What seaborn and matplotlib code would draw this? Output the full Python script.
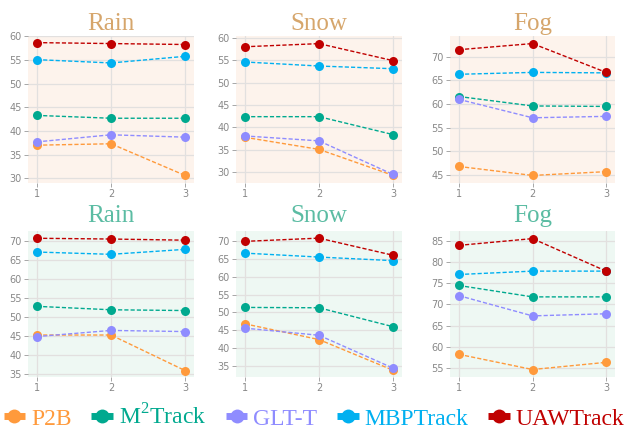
import numpy as np
import pandas as pd
import matplotlib
matplotlib.use("Agg")
import matplotlib.pyplot as plt
import seaborn as sns
from matplotlib.lines import Line2D

sns.set_theme(style="white")
plt.rcParams["mathtext.fontset"] = "custom"
plt.rcParams["mathtext.rm"] = "Liberation Serif"

methods = ["P2B", "M2Track", "GLT-T", "MBPTrack", "UAWTrack"]
legend_labels = ["P2B", r"M$^{\mathrm{2}}$Track", "GLT-T", "MBPTrack", "UAWTrack"]
colors = ["#ff9a3c", "#00a98f", "#8f8cff", "#00b0f0", "#c00000"]
levels = [1, 2, 3]
panel_titles = ["Rain", "Snow", "Fog", "Rain", "Snow", "Fog"]

# values per panel: rows = methods (P2B, M2Track, GLT-T, MBPTrack, UAWTrack)
top_rain = [[37.0, 37.3, 30.6], [43.3, 42.7, 42.7], [37.7, 39.2, 38.7], [55.1, 54.4, 55.8], [58.7, 58.5, 58.3]]
top_snow = [[37.8, 35.1, 29.3], [42.4, 42.4, 38.4], [38.1, 37.0, 29.5], [54.6, 53.7, 53.1], [58.0, 58.7, 54.9]]
top_fog = [[46.8, 44.9, 45.7], [61.6, 59.6, 59.5], [61.0, 57.1, 57.4], [66.3, 66.7, 66.6], [71.5, 72.8, 66.7]]
bot_rain = [[45.3, 45.3, 36.0], [52.8, 51.9, 51.7], [44.9, 46.5, 46.2], [67.0, 66.4, 67.7], [70.6, 70.4, 70.1]]
bot_snow = [[46.8, 42.4, 33.8], [51.4, 51.3, 46.0], [45.6, 43.6, 34.4], [66.6, 65.5, 64.5], [69.9, 70.8, 66.0]]
bot_fog = [[58.2, 54.6, 56.3], [74.5, 71.8, 71.8], [72.1, 67.3, 67.8], [77.1, 77.9, 77.9], [84.0, 85.6, 77.9]]

panels = [top_rain, top_snow, top_fog, bot_rain, bot_snow, bot_fog]
ylims = [(29.0, 60.1), (27.6, 60.4), (43.3, 74.4), (34.4, 72.5), (32.0, 72.8), (52.9, 87.4)]
yticks = [np.arange(30, 61, 5), np.arange(30, 61, 5), np.arange(45, 71, 5),
          np.arange(35, 71, 5), np.arange(35, 71, 5), np.arange(55, 86, 5)]

W, H = 628, 429
fig = plt.figure(figsize=(W / 100, H / 100), dpi=100)

cols_px = [(28, 194), (236, 402), (450, 615)]
rows_px = [(36, 183), (231, 376.7)]
bgs = ["#fdf3ec", "#eef8f3"]
title_colors = ["#d6a66c", "#5bbca3"]
title_pads = [4, 6.5]

palette = dict(zip(methods, colors))

for i, vals in enumerate(panels):
    r, c = divmod(i, 3)
    x0, x1 = cols_px[c]
    y0, y1 = rows_px[r]
    ax = fig.add_axes([x0 / W, (H - y1) / H, (x1 - x0) / W, (y1 - y0) / H])
    ax.set_facecolor(bgs[r])
    recs = []
    for m, row in zip(methods, vals):
        for lv, v in zip(levels, row):
            recs.append({"method": m, "level": lv, "value": v})
    df = pd.DataFrame(recs)
    sns.lineplot(data=df, x="level", y="value", hue="method", hue_order=methods,
                 palette=palette, marker="o", markersize=6.5, markeredgewidth=0,
                 linewidth=1.0, linestyle=(0, (3, 1.5)), legend=False, ax=ax, zorder=3)
    ax.set_xlim(0.88, 3.12)
    ax.set_ylim(*ylims[i])
    ax.set_xticks(levels)
    ax.set_yticks(yticks[i])
    ax.grid(True, color="#e2e0df", linewidth=0.9, zorder=0)
    ax.set_axisbelow(True)
    for s in ax.spines.values():
        s.set_visible(False)
    ax.tick_params(axis="both", labelsize=7, colors="#999999", length=3, width=0.6,
                   pad=1.5, labelcolor="#888888", left=True, bottom=True)
    ax.set_xlabel("")
    ax.set_ylabel("")
    ax.set_title(panel_titles[i], family="Liberation Serif", fontsize=18,
                 color=title_colors[r], pad=title_pads[r])

handles = [Line2D([0], [0], color=col, marker="o", markersize=10, linewidth=5,
                  markeredgewidth=0, solid_capstyle="butt") for col in colors]
leg = fig.legend(handles, legend_labels, loc="center", bbox_to_anchor=(0.5, 1 - 417 / H),
                 ncol=5, frameon=False, handlelength=0.9, handletextpad=0.25,
                 columnspacing=0.85, borderpad=0, borderaxespad=0,
                 prop={"family": "Liberation Serif", "size": 17})
for t, col in zip(leg.get_texts(), colors):
    t.set_color(col)

fig.savefig("out.png", dpi=100)
